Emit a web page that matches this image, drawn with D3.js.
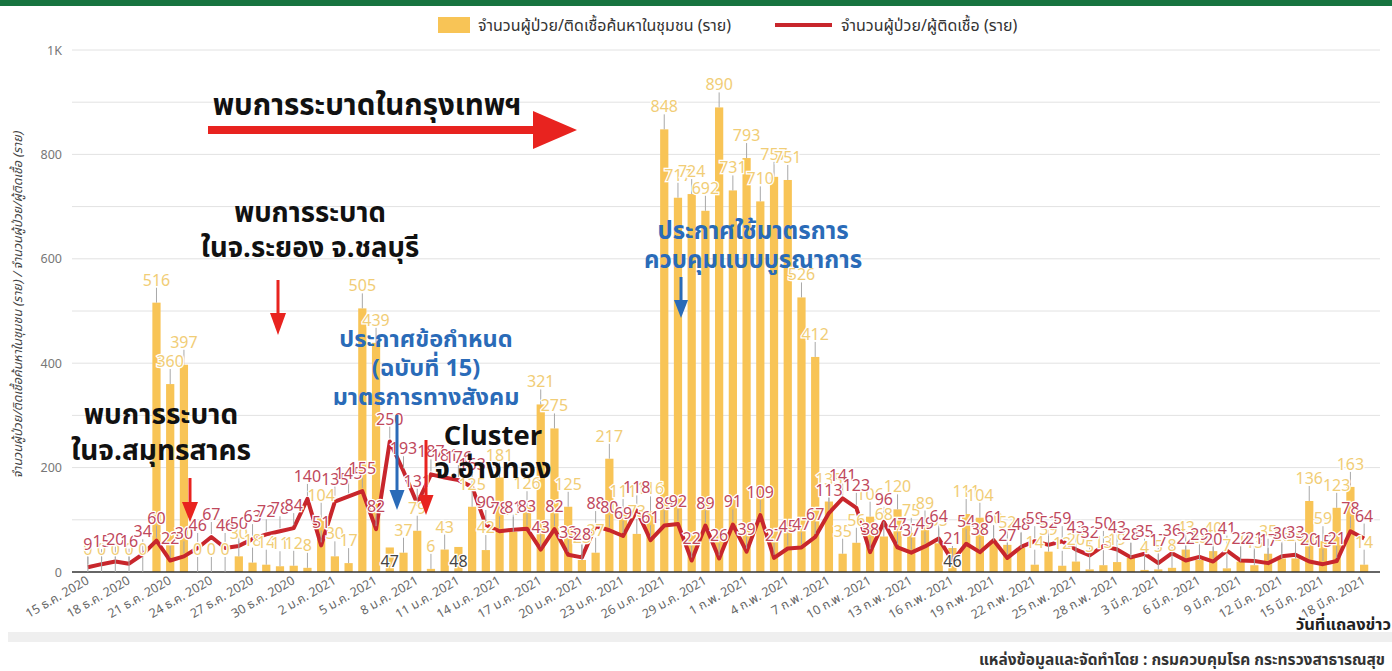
<!DOCTYPE html>
<html>
<head>
<meta charset="utf-8">
<script src="https://cdn.jsdelivr.net/npm/d3@7"></script>
<style>
  body { margin: 0; background: #fff; }
  svg { display: block; font-family: 'Noto Sans Thai', 'Noto Sans', 'DejaVu Sans', sans-serif; }
</style>
</head>
<body>
<script>
// categories: one per press-conference day, 15 Dec 2020 .. 18 Mar 2021
var days = d3.timeDay.range(new Date(2020, 11, 15), new Date(2021, 2, 19));
var thaiMonths = ["ม.ค.", "ก.พ.", "มี.ค.", "เม.ย.", "พ.ค.", "มิ.ย.", "ก.ค.", "ส.ค.", "ก.ย.", "ต.ค.", "พ.ย.", "ธ.ค."];

// series: community active case finding (bars)
var community = [0, 0, 0, 0, 0, 516, 360, 397, 0, 0,
  0, 30, 18, 14, 11, 12, 8, 104, 30, 17,
  505, 439, 47, 37, 79, 6, 43, 48, 125, 42,
  181, 77, 126, 321, 275, 125, 23, 37, 217, 111,
  73, 116, 848, 717, 724, 692, 890, 731, 793, 710,
  757, 751, 526, 412, 135, 35, 56, 106, 68, 120,
  75, 89, 55, 46, 111, 104, 60, 52, 46, 14,
  39, 12, 20, 5, 13, 19, 27, 4, 5, 8,
  43, 23, 40, 7, 20, 13, 35, 26, 26, 136,
  59, 123, 163, 14];

// series: patients / infected (line)
var infected = [9, 15, 20, 16, 34, 60, 22, 30, 46, 67,
  46, 50, 63, 72, 78, 84, 140, 51, 135, 145,
  155, 82, 250, 193, 131, 187, 181, 176, 163, 90,
  78, 81, 83, 43, 82, 33, 28, 88, 80, 69,
  118, 61, 89, 92, 22, 89, 26, 91, 39, 109,
  27, 45, 47, 67, 113, 141, 123, 38, 96, 47,
  37, 49, 64, 21, 54, 38, 61, 27, 48, 59,
  52, 59, 43, 32, 50, 43, 28, 35, 17, 36,
  22, 29, 20, 41, 22, 21, 17, 30, 33, 20,
  15, 21, 78, 64];

// bar labels the source drew inside the bar, near the base
var insideLabels = [22, 27, 63];

var yTicks = [0, 200, 400, 600, 800, 1000];

var width = 1392, height = 671;
var barColor = "#f8c456", lineColor = "#c8262c";
var blue = "#2a6bb8", arrowRed = "#e8231f";

var svg = d3.select("body").append("svg")
  .attr("width", width)
  .attr("height", height);

// top green strip
svg.append("rect").attr("x", 0).attr("y", 0).attr("width", width).attr("height", 6).attr("fill", "#17743f");

var x = d3.scaleBand()
  .domain(d3.range(days.length))
  .range([81, 1371])
  .paddingInner(0.4)
  .paddingOuter(0.2);

var y = d3.scaleLinear().domain([0, 1000]).range([572, 50]);

var cx = function(i) { return x(i) + x.bandwidth() / 2; };

// gridlines every 100
svg.append("g")
  .selectAll("line")
  .data(d3.range(100, 1001, 100))
  .enter().append("line")
  .attr("x1", 72).attr("x2", 1380)
  .attr("y1", function(d) { return y(d); })
  .attr("y2", function(d) { return y(d); })
  .attr("stroke", "#e2e2e2")
  .attr("stroke-width", 1);

// y axis labels
var yAxis = svg.append("g")
  .attr("transform", "translate(72,0)")
  .call(d3.axisLeft(y).tickValues(yTicks).tickSize(0).tickPadding(10)
    .tickFormat(function(d) { return d === 1000 ? "1K" : d; }));
yAxis.select(".domain").remove();
yAxis.selectAll("text").attr("fill", "#777").attr("font-size", 12.5).attr("font-family", "'Noto Sans', sans-serif");

// y title
svg.append("text")
  .attr("transform", "translate(22,305) rotate(-90)")
  .attr("text-anchor", "middle")
  .attr("font-size", 12.5)
  .attr("font-style", "italic")
  .attr("fill", "#444")
  .text("จำนวนผู้ป่วย/ติดเชื้อค้นหาในชุมชน (ราย) / จำนวนผู้ป่วย/ผู้ติดเชื้อ (ราย)");

// bars
svg.append("g")
  .selectAll("rect")
  .data(community)
  .enter().append("rect")
  .attr("x", function(d, i) { return x(i); })
  .attr("y", function(d) { return y(d); })
  .attr("width", x.bandwidth())
  .attr("height", function(d) { return y(0) - y(d); })
  .attr("fill", barColor);

// baseline
svg.append("line")
  .attr("x1", 72).attr("x2", 1380)
  .attr("y1", y(0)).attr("y2", y(0))
  .attr("stroke", "#333").attr("stroke-width", 1.5);

// line series
var line = d3.line()
  .x(function(d, i) { return cx(i); })
  .y(function(d) { return y(d); });

svg.append("path")
  .datum(infected)
  .attr("d", line)
  .attr("fill", "none")
  .attr("stroke", lineColor)
  .attr("stroke-width", 4)
  .attr("stroke-linejoin", "round");

// leader lines for labels
var leaders = svg.append("g").attr("stroke", "#a8a8a8").attr("stroke-width", 1);
community.forEach(function(d, i) {
  if (insideLabels.indexOf(i) >= 0) return;
  leaders.append("line").attr("x1", cx(i)).attr("x2", cx(i)).attr("y1", y(d)).attr("y2", y(d) - 15);
});
infected.forEach(function(d, i) {
  leaders.append("line").attr("x1", cx(i)).attr("x2", cx(i)).attr("y1", y(d) - 3).attr("y2", y(d) - 15);
});

// value labels
function valueLabels(data, color, cls) {
  svg.append("g")
    .selectAll("text")
    .data(data)
    .enter().append("text")
    .attr("class", cls)
    .attr("x", function(d, i) { return cx(i); })
    .attr("y", function(d, i) {
      if (cls === "bar-label" && insideLabels.indexOf(i) >= 0) return y(0) - 5;
      return y(d) - 17;
    })
    .attr("text-anchor", "middle")
    .attr("font-size", 16)
    .attr("font-family", "'Noto Sans', sans-serif")
    .attr("fill", function(d, i) {
      return (cls === "bar-label" && insideLabels.indexOf(i) >= 0) ? "#444" : color;
    })
    .attr("stroke", "#fff")
    .attr("stroke-width", 2.5)
    .attr("paint-order", "stroke")
    .text(function(d) { return d; });
}
valueLabels(community, "#f1cd76", "bar-label");
valueLabels(infected, "#c0485c", "line-label");

// x axis tick labels every 3 days
svg.append("g")
  .selectAll("text")
  .data(d3.range(0, days.length, 3))
  .enter().append("text")
  .attr("transform", function(i) { return "translate(" + (cx(i) + 2) + ",583) rotate(-30)"; })
  .attr("text-anchor", "end")
  .attr("font-size", 12.5)
  .attr("fill", "#666")
  .text(function(i) {
    var d = days[i];
    return d.getDate() + " " + thaiMonths[d.getMonth()] + " " + d.getFullYear();
  });

svg.append("rect").attr("x", 8).attr("y", 632).attr("width", width - 8).attr("height", 10).attr("fill", "#efefef");

svg.append("text")
  .attr("x", 1391).attr("y", 630)
  .attr("text-anchor", "end")
  .attr("font-size", 16.5).attr("font-weight", "bold").attr("fill", "#222")
  .text("วันที่แถลงข่าว");

svg.append("text")
  .attr("x", 1385).attr("y", 665)
  .attr("text-anchor", "end")
  .attr("font-size", 15.5).attr("font-weight", "bold").attr("fill", "#333")
  .text("แหล่งข้อมูลและจัดทำโดย : กรมควบคุมโรค กระทรวงสาธารณสุข");

// legend
var legend = svg.append("g");
legend.append("rect").attr("x", 438).attr("y", 17).attr("width", 32).attr("height", 16).attr("fill", barColor);
legend.append("text").attr("x", 478).attr("y", 31).attr("font-size", 16).attr("fill", "#333")
  .text("จำนวนผู้ป่วย/ติดเชื้อค้นหาในชุมชน (ราย)");
legend.append("line").attr("x1", 775).attr("x2", 832).attr("y1", 25).attr("y2", 25)
  .attr("stroke", lineColor).attr("stroke-width", 4);
legend.append("text").attr("x", 841).attr("y", 31).attr("font-size", 16).attr("fill", "#333")
  .text("จำนวนผู้ป่วย/ผู้ติดเชื้อ (ราย)");

// annotations
function note(lines, cxp, y0, lh, size, color) {
  var t = svg.append("text")
    .attr("text-anchor", "middle")
    .attr("font-size", size)
    .attr("font-weight", "bold")
    .attr("fill", color);
  lines.forEach(function(s, k) {
    t.append("tspan").attr("x", cxp).attr("y", y0 + k * lh).text(s);
  });
}

function downArrow(ax, y1, y2, color, shaft, headW, headH) {
  svg.append("line").attr("x1", ax).attr("x2", ax).attr("y1", y1).attr("y2", y2 - headH + 1)
    .attr("stroke", color).attr("stroke-width", shaft);
  svg.append("path")
    .attr("d", "M" + (ax - headW / 2) + "," + (y2 - headH) + "L" + (ax + headW / 2) + "," + (y2 - headH) + "L" + ax + "," + y2 + "Z")
    .attr("fill", color);
}

note(["พบการระบาดในกรุงเทพฯ"], 367, 115, 0, 29.5, "#111");
svg.append("line").attr("x1", 208).attr("x2", 536).attr("y1", 130).attr("y2", 130)
  .attr("stroke", arrowRed).attr("stroke-width", 8);
svg.append("path").attr("d", "M533,111L577,130L533,149Z").attr("fill", arrowRed);

note(["พบการระบาด", "ในจ.ระยอง จ.ชลบุรี"], 310, 222, 35, 27.5, "#111");
downArrow(278, 280, 335, arrowRed, 3, 16, 22);

note(["พบการระบาด", "ในจ.สมุทรสาคร"], 161, 424, 36, 28, "#111");
downArrow(190, 478, 522, arrowRed, 3, 16, 20);

note(["ประกาศข้อกำหนด", "(ฉบับที่ 15)", "มาตรการทางสังคม"], 426, 347, 29, 23.5, blue);
downArrow(397, 415, 510, blue, 3, 15, 20);

note(["Cluster", "จ.อ่างทอง"], 493, 445, 33, 27.5, "#111");
downArrow(426, 440, 515, arrowRed, 3, 15, 20);

note(["ประกาศใช้มาตรการ", "ควบคุมแบบบูรณาการ"], 753, 239, 29, 24, blue);
downArrow(681, 277, 318, blue, 3, 14, 18);
</script>
</body>
</html>
